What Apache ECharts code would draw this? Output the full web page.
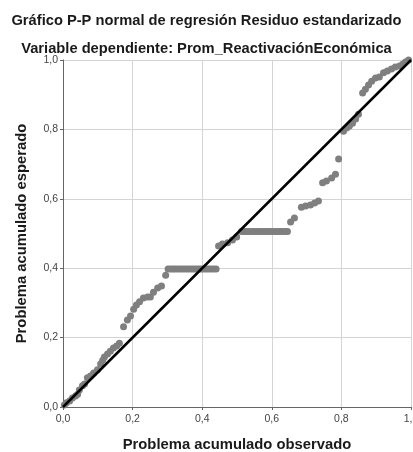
<!DOCTYPE html>
<html>
<head>
<meta charset="utf-8">
<script src="https://cdn.jsdelivr.net/npm/echarts@6/dist/echarts.min.js"></script>
<style>
html,body{margin:0;padding:0;background:#fff;}
#c{width:413px;height:452px;}
</style>
</head>
<body>
<div id="c"></div>
<script>
var titleLine1 = 'Gráfico P-P normal de regresión Residuo estandarizado';
var titleLine2 = 'Variable dependiente: Prom_ReactivaciónEconómica';
var xAxisName = 'Problema acumulado observado';
var yAxisName = 'Problema acumulado esperado';
var tickValues = [0, 0.2, 0.4, 0.6, 0.8, 1.0];

var observed = [
  0.004,0.010,0.019,0.027,0.036,0.042,0.047,0.056,0.062,0.070,0.079,0.088,0.099,0.108,0.114,0.119,0.128,0.136,0.145,0.154,0.162,
  0.174,0.185,0.194,0.203,0.211,0.220,0.231,0.243,0.251,0.260,0.272,0.283,0.295,
  0.302,0.309,0.316,0.322,0.329,0.336,0.343,0.350,0.357,0.364,0.371,0.378,0.385,0.392,0.398,0.405,0.412,0.419,0.426,0.433,0.440,
  0.447,0.458,0.473,0.487,0.499,
  0.513,0.520,0.527,0.534,0.541,0.548,0.555,0.562,0.569,0.576,0.583,0.590,0.597,0.604,0.611,0.618,0.625,0.632,0.639,0.645,
  0.654,0.665,0.685,0.697,0.711,0.723,0.734,0.746,0.757,0.772,0.783,0.792,
  0.806,0.815,0.823,0.832,0.841,0.849,0.861,0.869,0.878,0.887,0.898,0.909,0.921,0.932,0.944,0.955,0.967,0.976,0.984,0.993
];
var expected = [
  0.006,0.012,0.017,0.026,0.032,0.037,0.049,0.061,0.066,0.084,0.089,0.098,0.107,0.124,0.135,0.144,0.153,0.161,0.170,0.176,0.184,
  0.231,0.251,0.262,0.282,0.294,0.303,0.314,0.317,0.317,0.331,0.343,0.349,0.380,
  0.398,0.398,0.398,0.398,0.398,0.398,0.398,0.398,0.398,0.398,0.398,0.398,0.398,0.398,0.398,0.398,0.398,0.398,0.398,0.398,0.398,
  0.464,0.470,0.473,0.481,0.490,
  0.506,0.506,0.506,0.506,0.506,0.506,0.506,0.506,0.506,0.506,0.506,0.506,0.506,0.506,0.506,0.506,0.506,0.506,0.506,0.506,
  0.533,0.545,0.576,0.579,0.582,0.588,0.594,0.646,0.651,0.660,0.671,0.715,
  0.795,0.804,0.810,0.818,0.830,0.844,0.905,0.916,0.928,0.939,0.948,0.951,0.963,0.968,0.974,0.980,0.983,0.988,0.994,1.000
];
var refLine = [[0, 0], [1, 1]];

var points = observed.map(function (x, i) { return [x, expected[i]]; });
var fmt = function (v) { return v.toFixed(1).replace('.', ','); };
var FONT = '"Liberation Sans", Arial, sans-serif';

var chart = echarts.init(document.getElementById('c'), null, {renderer: 'canvas'});
chart.setOption({
  animation: false,
  backgroundColor: '#ffffff',
  title: [
    {text: titleLine1, left: 'center', top: 8, textStyle: {fontFamily: FONT, fontSize: 14.7, fontWeight: 'bold', color: '#1a1a1a'}},
    {text: titleLine2, left: 'center', top: 36, textStyle: {fontFamily: FONT, fontSize: 14.7, fontWeight: 'bold', color: '#1a1a1a'}}
  ],
  grid: {left: 63, right: 2, top: 60, bottom: 45, containLabel: false, outerBoundsMode: 'none'},
  xAxis: {
    type: 'value', min: 0, max: 1, interval: 0.2,
    name: xAxisName, nameLocation: 'middle', nameGap: 30,
    nameTextStyle: {fontFamily: FONT, fontSize: 14.8, fontWeight: 'bold', color: '#1a1a1a'},
    axisLine: {show: true, lineStyle: {color: '#666', width: 1}},
    axisTick: {show: true, length: 3, lineStyle: {color: '#666'}},
    axisLabel: {fontFamily: FONT, fontSize: 10.5, color: '#444', margin: 7, formatter: fmt, showMaxLabel: true, showMinLabel: true},
    splitLine: {show: true, lineStyle: {color: '#d4d4d4', width: 1}}
  },
  yAxis: {
    type: 'value', min: 0, max: 1, interval: 0.2,
    name: yAxisName, nameLocation: 'middle', nameGap: 34, nameRotate: 90,
    nameTextStyle: {fontFamily: FONT, fontSize: 14.8, fontWeight: 'bold', color: '#1a1a1a'},
    axisLine: {show: true, lineStyle: {color: '#666', width: 1}},
    axisTick: {show: true, length: 3, lineStyle: {color: '#666'}},
    axisLabel: {fontFamily: FONT, fontSize: 10.5, color: '#444', margin: 5, formatter: fmt},
    splitLine: {show: true, lineStyle: {color: '#d4d4d4', width: 1}}
  },
  series: [
    {
      type: 'scatter', data: points, symbol: 'circle', symbolSize: 7,
      itemStyle: {color: '#7f7f7f', opacity: 1}, z: 2
    },
    {
      type: 'line', data: refLine, symbol: 'none',
      lineStyle: {color: '#000000', width: 2.5}, z: 3
    }
  ]
});
</script>
</body>
</html>
